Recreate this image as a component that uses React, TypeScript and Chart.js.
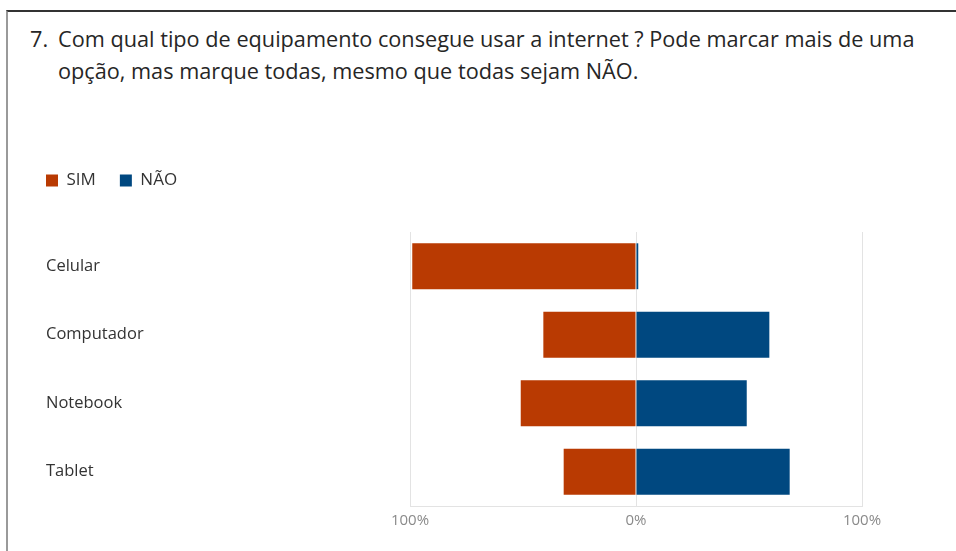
import React, { useEffect, useRef } from "react";
import { Chart, registerables } from "chart.js";

Chart.register(...registerables);

const categories = ["Celular", "Computador", "Notebook", "Tablet"];
const simValues = [99, 41, 51, 32];
const naoValues = [1, 59, 49, 68];
const seriesLabels = ["SIM", "NÃO"];
const xTicks = [-100, 0, 100];

const FONT = "'Open Sans', 'Noto Sans', sans-serif";

const shiftYLabels = {
  id: "shiftYLabels",
  afterLayout(chart: any) {
    const s = chart.scales.y;
    if (s) s.left = 46;
  },
};

export default function App() {
  const ref = useRef<HTMLCanvasElement | null>(null);

  useEffect(() => {
    document.body.style.margin = "0";
    const ctx = ref.current!;
    const chart = new Chart(ctx, {
      type: "bar",
      data: {
        labels: categories,
        datasets: [
          {
            label: seriesLabels[0],
            data: simValues.map((v) => -v),
            backgroundColor: "#B93A02",
            borderColor: "#B93A02",
            borderWidth: 0,
            barPercentage: 0.67,
            categoryPercentage: 1,
          },
          {
            label: seriesLabels[1],
            data: naoValues,
            backgroundColor: "#004880",
            borderColor: "#004880",
            borderWidth: 0,
            barPercentage: 0.67,
            categoryPercentage: 1,
          },
        ],
      },
      plugins: [shiftYLabels],
      options: {
        indexAxis: "y",
        animation: false,
        responsive: true,
        maintainAspectRatio: false,
        layout: { padding: { left: 22, right: 94, top: 0, bottom: 0 } },
        plugins: {
          tooltip: { enabled: false },
          title: {
            display: true,
            text: "",
            position: "top",
            weight: 500,
            font: { size: 1, lineHeight: 1 },
            padding: { top: 0, bottom: 32 },
          } as any,
          legend: {
            position: "top",
            align: "start",
            labels: {
              boxWidth: 12,
              boxHeight: 12,
              padding: 24,
              color: "#333333",
              font: { family: FONT, size: 17 },
            },
          },
        },
        scales: {
          x: {
            stacked: true,
            min: -100,
            max: 100,
            afterBuildTicks: (scale: any) => {
              scale.ticks = xTicks.map((v) => ({ value: v }));
            },
            ticks: {
              color: "#8a8a8a",
              font: { family: FONT, size: 15 },
              padding: 6,
              callback: (v: any) => Math.abs(Number(v)) + "%",
            },
            grid: { color: "#e3e3e3", drawTicks: false, lineWidth: 1 },
            border: { display: true, color: "#e3e3e3" },
          },
          y: {
            stacked: true,
            afterFit: (scale: any) => {
              scale.width = 388;
            },
            ticks: {
              crossAlign: "far",
              color: "#333333",
              font: { family: FONT, size: 16.5 },
            },
            grid: { display: false },
            border: { display: false },
          },
        },
      },
    });
    return () => chart.destroy();
  }, []);

  return (
    <div
      style={{
        position: "absolute",
        left: 0,
        top: 0,
        width: 956,
        height: 551,
        background: "#ffffff",
        overflow: "hidden",
      }}
    >
      <div
        style={{
          position: "absolute",
          left: 6,
          top: 10,
          width: 950,
          height: 541,
          borderTop: "2px solid #333333",
          borderLeft: "2px solid #9a9a9a",
          boxSizing: "border-box",
        }}
      />
      <div
        style={{
          position: "absolute",
          left: 30,
          top: 23,
          width: 920,
          fontFamily: FONT,
          fontSize: 21.7,
          lineHeight: "32px",
          color: "#262626",
          display: "flex",
          whiteSpace: "nowrap",
        }}
      >
        <div style={{ width: 28, flex: "none" }}>7.</div>
        <div>
          Com qual tipo de equipamento consegue usar a internet ? Pode marcar mais de uma
          <br />
          opção, mas marque todas, mesmo que todas sejam NÃO.
        </div>
      </div>
      <div
        style={{
          position: "absolute",
          left: 0,
          top: 148,
          width: 956,
          height: 388,
        }}
      >
        <canvas ref={ref} />
      </div>
    </div>
  );
}
